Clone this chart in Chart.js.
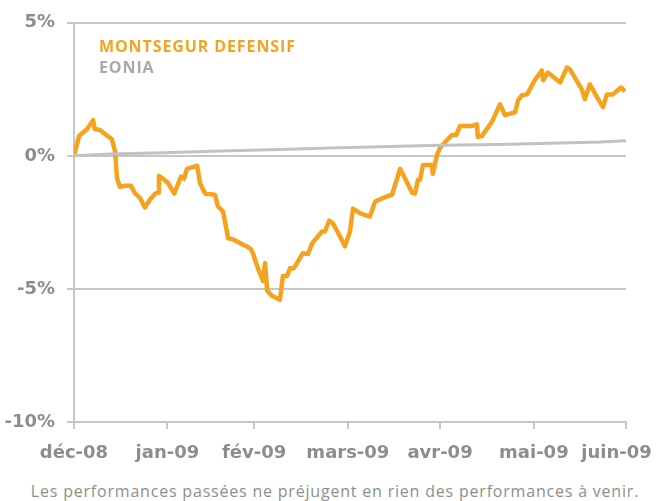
<!DOCTYPE html>
<html>
<head>
<meta charset="utf-8">
<script src="https://cdn.jsdelivr.net/npm/chart.js@4/dist/chart.umd.min.js"></script>
<style>
  html, body { margin: 0; padding: 0; background: #fff; }
  #wrap { position: relative; width: 659px; height: 501px; }
  #chartBox { position: absolute; left: 0; top: 0; width: 659px; height: 475px; }
  .legend { position: absolute; left: 99px; font-family: "Open Sans", sans-serif; font-weight: 700; font-size: 16px; letter-spacing: 0.9px; }
  #lg1 { top: 35px; color: #f5a31e; }
  #lg2 { top: 56px; color: #a9a9a9; }
  #note { position: absolute; left: 0; width: 670px; top: 480px; text-align: center; font-family: "Open Sans", sans-serif; font-size: 16px; letter-spacing: 0.8px; color: #8e8e8e; }
</style>
</head>
<body>
<div id="wrap">
  <div id="chartBox"><canvas id="perfChart" width="659" height="475"></canvas></div>
  <div class="legend" id="lg1">MONTSEGUR DEFENSIF</div>
  <div class="legend" id="lg2">EONIA</div>
  <div id="note">Les performances passées ne préjugent en rien des performances à venir.</div>
</div>
<script>
// --- données (jours de bourse depuis le 1er déc. 2008, perf. en %) ---
const monthLabels = ['déc-08', 'jan-09', 'fév-09', 'mars-09', 'avr-09', 'mai-09', 'juin-09'];
const monthTicks = [0, 22, 42.4, 64.5, 86.2, 108.3, 130];
const yTicks = [5, 0, -5, -10];

const fundDays = [0, 1.2, 3.1, 4.5, 4.9, 6.1, 7.3, 8.9, 9.7, 10.1, 10.8, 12.0, 13.4, 14.4, 15.5, 16.7, 17.9, 19.1, 19.8, 20.0,
  21.0, 22.1, 23.6, 25.2, 25.9, 26.6, 29.0, 29.7, 30.9, 33.2, 33.9, 35.1, 36.3, 37.4, 39.6, 40.7, 41.7, 42.2, 43.3, 44.5,
  45.0, 45.5, 46.6, 48.5, 49.2, 50.2, 50.9, 51.8, 53.2, 53.9, 55.1, 56.1, 58.4, 59.1, 60.1, 61.0, 62.4, 63.8, 65.0, 65.7,
  67.4, 69.7, 70.9, 72.5, 74.9, 76.8, 78.0, 79.6, 80.3, 81.0, 81.5, 82.2, 84.3, 84.5, 85.5, 86.2, 87.4, 89.0, 90.0, 90.9,
  93.7, 94.9, 95.1, 96.1, 98.4, 100.3, 101.5, 103.9, 104.6, 105.5, 106.7, 108.6, 110.2, 110.5, 111.6, 114.5, 116.1, 116.8,
  119.6, 120.3, 121.5, 123.2, 124.6, 125.5, 126.9, 128.8, 129.8];
const fundValues = [0, 0.75, 1.01, 1.34, 1.01, 0.97, 0.82, 0.63, 0.15, -0.82, -1.16, -1.12, -1.12, -1.42, -1.57, -1.94, -1.64, -1.42, -1.38, -0.75,
  -0.86, -1.01, -1.42, -0.78, -0.86, -0.49, -0.37, -1.04, -1.42, -1.46, -1.90, -2.09, -3.10, -3.13, -3.32, -3.40, -3.51, -3.69, -4.22, -4.70,
  -4.03, -5.07, -5.26, -5.41, -4.51, -4.51, -4.22, -4.22, -3.84, -3.66, -3.69, -3.28, -2.84, -2.84, -2.43, -2.54, -2.95, -3.40, -2.84, -1.98,
  -2.16, -2.28, -1.72, -1.60, -1.46, -0.49, -0.86, -1.38, -1.42, -0.90, -0.90, -0.34, -0.34, -0.67, 0.04, 0.30, 0.52, 0.78, 0.78, 1.12,
  1.12, 1.19, 0.71, 0.75, 1.27, 1.94, 1.53, 1.64, 2.09, 2.28, 2.31, 2.87, 3.21, 2.84, 3.13, 2.76, 3.32, 3.25,
  2.50, 2.13, 2.69, 2.20, 1.83, 2.31, 2.31, 2.57, 2.43];

const eoniaDays = [0, 8.5, 21.4, 34.4, 48.5, 60.3, 76.8, 86.2, 100.3, 112.1, 123.9, 130];
const eoniaValues = [0, 0.07, 0.12, 0.18, 0.24, 0.30, 0.36, 0.40, 0.43, 0.47, 0.52, 0.57];

const toPoints = (xs, ys) => xs.map((x, i) => ({ x: x, y: ys[i] }));

const gridGrey = '#c6c6c6';
const labelGrey = '#8d8d8d';
const tickFont = { family: 'DejaVu Sans', weight: 'bold', size: 18 };

const ctx = document.getElementById('perfChart').getContext('2d');
new Chart(ctx, {
  type: 'line',
  data: {
    datasets: [
      {
        label: 'EONIA',
        data: toPoints(eoniaDays, eoniaValues),
        borderColor: '#c2c2c2',
        borderWidth: 3,
        pointRadius: 0,
        tension: 0,
        order: 0
      },
      {
        label: 'MONTSEGUR DEFENSIF',
        data: toPoints(fundDays, fundValues),
        borderColor: '#f5a31e',
        borderWidth: 4.5,
        borderJoinStyle: 'round',
        pointRadius: 0,
        tension: 0,
        order: 1
      }
    ]
  },
  options: {
    responsive: false,
    animation: false,
    layout: { padding: { top: 20, right: 33, left: 0, bottom: 0 } },
    plugins: { legend: { display: false }, tooltip: { enabled: false } },
    scales: {
      x: {
        type: 'linear',
        min: 0,
        max: 130,
        afterBuildTicks: (scale) => { scale.ticks = monthTicks.map(v => ({ value: v })); },
        afterFit: (scale) => {
          scale.height = 53;
          scale.paddingLeft = 0;
          scale.paddingRight = 0;
        },
        border: { color: gridGrey, width: 2 },
        grid: { drawOnChartArea: false, drawTicks: true, tickLength: 7, color: gridGrey, lineWidth: 2 },
        ticks: {
          autoSkip: false,
          maxRotation: 0,
          padding: 14,
          color: labelGrey,
          font: tickFont,
          // le dernier libellé reste dans le cadre, comme sur l'original
          callback: (value, index) => index === monthLabels.length - 1 ? monthLabels[index] + '   ' : monthLabels[index]
        }
      },
      y: {
        min: -10,
        max: 5,
        afterBuildTicks: (scale) => { scale.ticks = yTicks.map(v => ({ value: v })); },
        afterFit: (scale) => { scale.width = 74; },
        border: { color: gridGrey, width: 2 },
        grid: { color: gridGrey, lineWidth: 2, tickLength: 7 },
        ticks: {
          padding: 12,
          color: labelGrey,
          font: tickFont,
          callback: (value) => value + '%'
        }
      }
    }
  }
});
</script>
</body>
</html>
